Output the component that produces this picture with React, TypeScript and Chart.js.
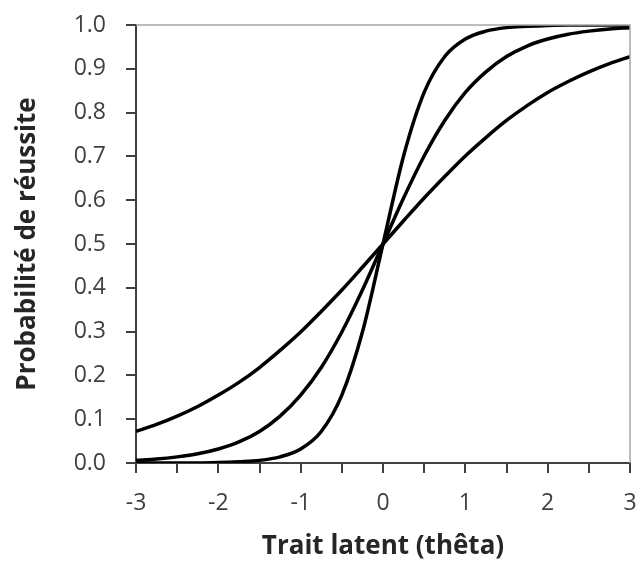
import React, { useEffect, useRef } from "react";
import { Chart, registerables } from "chart.js";

Chart.register(...registerables);

const theta = [-3, -2.75, -2.5, -2.25, -2, -1.75, -1.5, -1.25, -1, -0.75, -0.5, -0.25, 0, 0.25, 0.5, 0.75, 1, 1.25, 1.5, 1.75, 2, 2.25, 2.5, 2.75, 3];
const pLow = [0.072, 0.088, 0.107, 0.129, 0.155, 0.184, 0.218, 0.257, 0.299, 0.346, 0.395, 0.447, 0.5, 0.553, 0.605, 0.654, 0.701, 0.743, 0.782, 0.816, 0.846, 0.871, 0.893, 0.912, 0.928];
const pMid = [0.006, 0.009, 0.014, 0.021, 0.032, 0.048, 0.072, 0.107, 0.155, 0.218, 0.299, 0.395, 0.5, 0.605, 0.701, 0.782, 0.846, 0.893, 0.928, 0.952, 0.968, 0.979, 0.986, 0.991, 0.994];
const pHigh = [0.0, 0.0, 0.0, 0.0, 0.001, 0.003, 0.006, 0.014, 0.032, 0.072, 0.155, 0.299, 0.5, 0.701, 0.846, 0.928, 0.968, 0.986, 0.994, 0.997, 0.999, 1.0, 1.0, 1.0, 1.0];

const xTitle = "Trait latent (thêta)";
const yTitle = "Probabilité de réussite";

const FONT = "'Open Sans', 'DejaVu Sans', sans-serif";

const frame = {
  id: "frame",
  afterDatasetsDraw(chart: any) {
    const { ctx, chartArea } = chart;
    ctx.save();
    ctx.strokeStyle = "#a6a6a6";
    ctx.lineWidth = 1.5;
    ctx.beginPath();
    ctx.moveTo(chartArea.left, chartArea.top);
    ctx.lineTo(chartArea.right, chartArea.top);
    ctx.lineTo(chartArea.right, chartArea.bottom);
    ctx.stroke();
    ctx.restore();
  },
};

const zeroPad = (s: any) => {
  s.paddingTop = 0;
  s.paddingBottom = 0;
  s.paddingLeft = 0;
  s.paddingRight = 0;
};

export default function App() {
  const ref = useRef<HTMLCanvasElement>(null);
  useEffect(() => {
    const mk = (ys: number[]) => theta.map((x, i) => ({ x, y: ys[i] }));
    const ds = (ys: number[]) => ({
      data: mk(ys),
      borderColor: "#000",
      borderWidth: 3.5,
      pointRadius: 0,
      fill: false,
      cubicInterpolationMode: "monotone" as const,
    });
    const chart = new Chart(ref.current!, {
      type: "line",
      data: { datasets: [ds(pLow), ds(pMid), ds(pHigh)] },
      plugins: [frame],
      options: {
        animation: false,
        responsive: false,
        maintainAspectRatio: false,
        layout: { padding: { left: 8, right: 11, top: 25, bottom: 0 } },
        plugins: { legend: { display: false }, tooltip: { enabled: false } },
        scales: {
          x: {
            type: "linear",
            min: -3,
            max: 3,
            afterFit: (s: any) => {
              s.height = 103;
              zeroPad(s);
            },
            ticks: {
              stepSize: 0.5,
              autoSkip: false,
              maxRotation: 0,
              padding: 17,
              color: "#404040",
              font: { family: FONT, size: 23 },
              callback: (v: any) => (Number.isInteger(Number(v)) ? String(v) : ""),
            },
            grid: { drawOnChartArea: false, drawTicks: true, tickLength: 10, tickColor: "#404040", lineWidth: 2 },
            border: { display: true, color: "#404040", width: 2 },
            title: { display: true, text: xTitle, color: "#262626", font: { family: FONT, size: 26, weight: "bold" } },
          },
          y: {
            min: 0,
            max: 1,
            afterFit: (s: any) => {
              s.width = 128;
              zeroPad(s);
            },
            ticks: {
              stepSize: 0.1,
              padding: 20,
              color: "#404040",
              font: { family: FONT, size: 23 },
              callback: (v: any) => Number(v).toFixed(1),
            },
            grid: { drawOnChartArea: false, drawTicks: true, tickLength: 10, tickColor: "#404040", lineWidth: 2 },
            border: { display: true, color: "#404040", width: 2 },
            title: { display: true, text: yTitle, color: "#262626", font: { family: FONT, size: 26, weight: "bold" } },
          },
        },
      },
    });
    return () => chart.destroy();
  }, []);
  return (
    <div style={{ position: "fixed", left: 0, top: 0, width: 641, height: 566, background: "#fff" }}>
      <canvas ref={ref} width={641} height={566} style={{ width: 641, height: 566, display: "block" }} />
    </div>
  );
}
